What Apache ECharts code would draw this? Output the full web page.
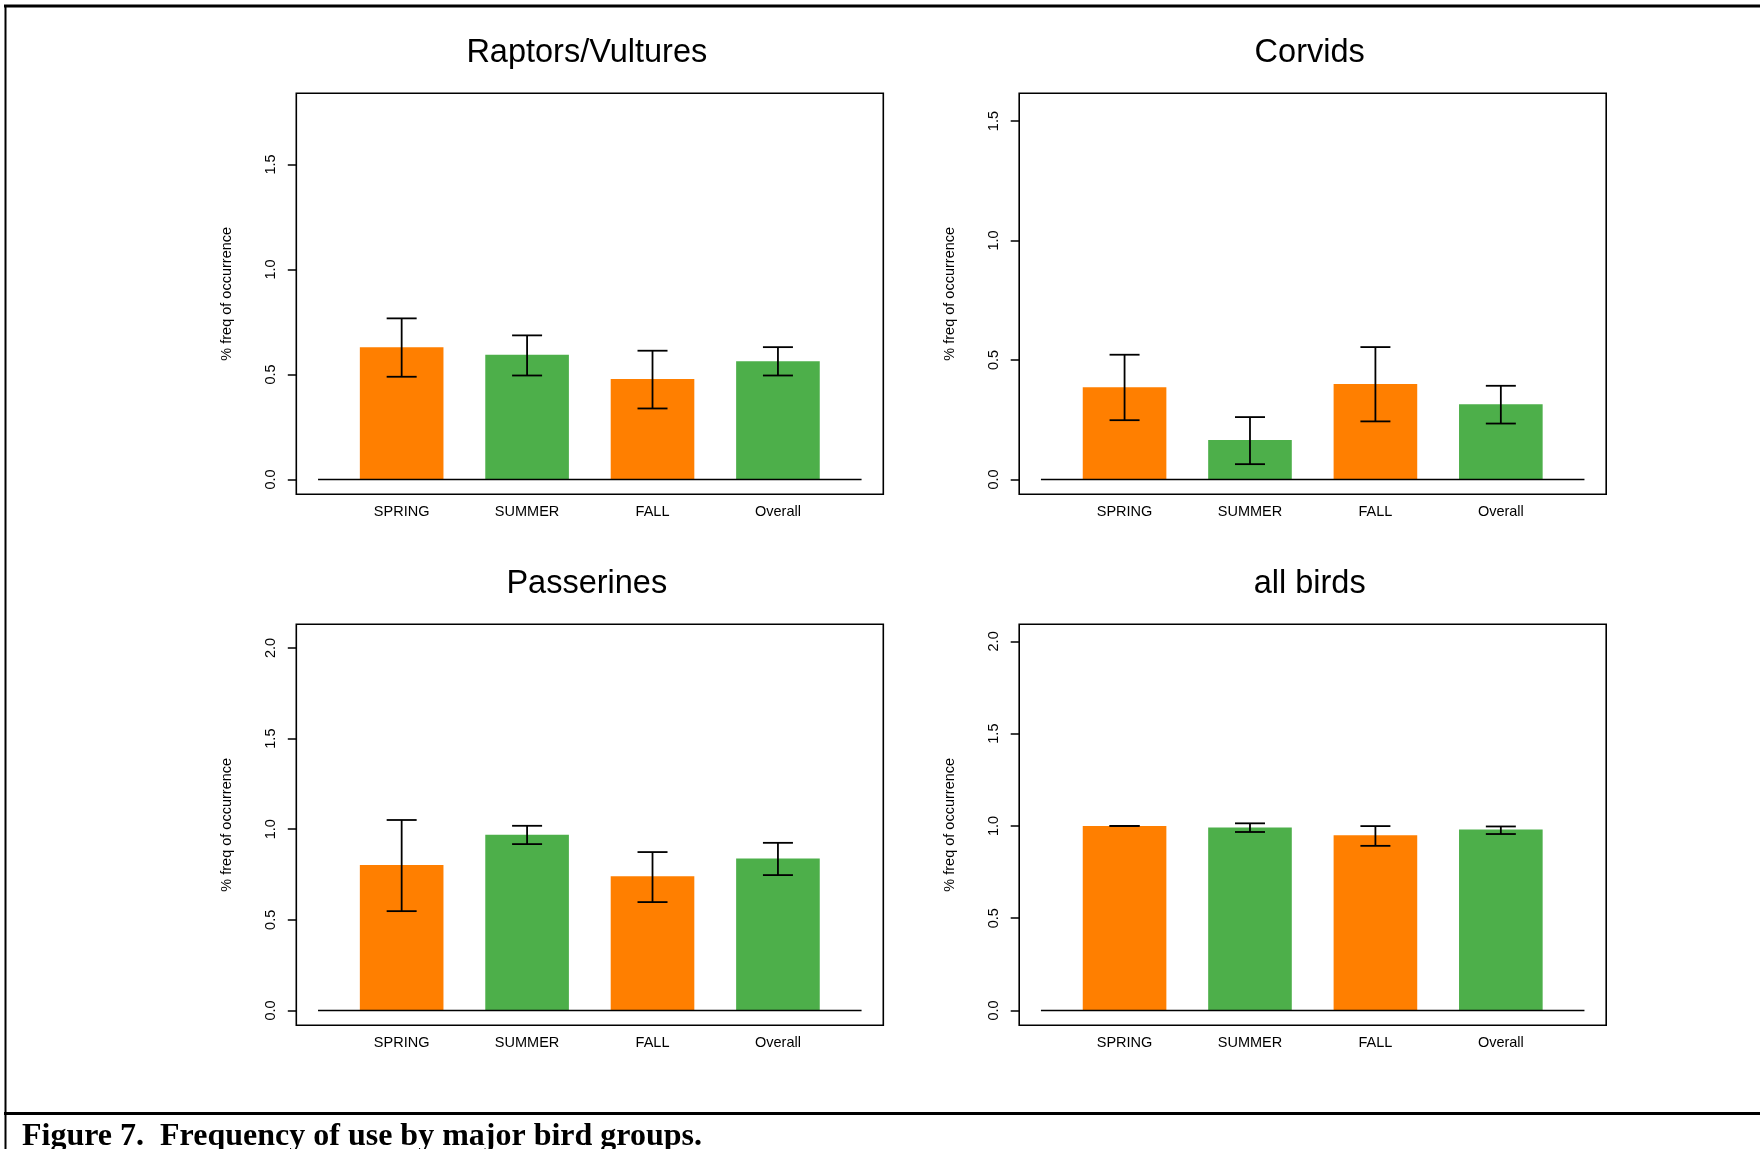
<!DOCTYPE html>
<html>
<head>
<meta charset="utf-8">
<script src="https://cdn.jsdelivr.net/npm/echarts@6/dist/echarts.min.js"></script>
<style>
  html, body { margin: 0; padding: 0; background: #fff; }
  #chart { width: 1760px; height: 1149px; }
</style>
</head>
<body>
<div id="chart"></div>
<script>
// ---- data ----
const categories = ['SPRING', 'SUMMER', 'FALL', 'Overall'];
const panelTitles = ['Raptors/Vultures', 'Corvids', 'Passerines', 'all birds'];
const caption = 'Figure 7.  Frequency of use by major bird groups.';
const yAxisName = '% freq of occurrence';

const raptorsMean = [0.630, 0.594, 0.478, 0.563];
const raptorsLow  = [0.489, 0.495, 0.338, 0.495];
const raptorsHigh = [0.767, 0.686, 0.613, 0.630];

const corvidsMean = [0.386, 0.165, 0.399, 0.315];
const corvidsLow  = [0.248, 0.064, 0.243, 0.234];
const corvidsHigh = [0.522, 0.261, 0.554, 0.392];

const passerinesMean = [0.802, 0.970, 0.740, 0.839];
const passerinesLow  = [0.548, 0.918, 0.598, 0.747];
const passerinesHigh = [1.051, 1.019, 0.874, 0.925];

const allBirdsMean = [1.000, 0.992, 0.949, 0.981];
const allBirdsLow  = [1.000, 0.967, 0.892, 0.956];
const allBirdsHigh = [1.000, 1.014, 0.999, 0.997];

const yTicksTop = [0, 0.5, 1.0, 1.5];
const yTicksBottom = [0, 0.5, 1.0, 1.5, 2.0];
const yLimits = [1.768, 1.554, 2.049, 2.012];   // upper ylim of each panel
const xLimit = 6.5;                              // xlim upper (lower is 0)

// ---- layout / style ----
const barColors = ['#FF7F00', '#4DAF4A', '#FF7F00', '#4DAF4A'];
const boxW = 587, boxH = 401;
const boxes = [
  { left: 296.3, top: 93.3 },
  { left: 1019.2, top: 93.3 },
  { left: 296.3, top: 624.3 },
  { left: 1019.2, top: 624.3 }
];
const panelData = [
  { mean: raptorsMean, low: raptorsLow, high: raptorsHigh, ticks: yTicksTop },
  { mean: corvidsMean, low: corvidsLow, high: corvidsHigh, ticks: yTicksTop },
  { mean: passerinesMean, low: passerinesLow, high: passerinesHigh, ticks: yTicksBottom },
  { mean: allBirdsMean, low: allBirdsLow, high: allBirdsHigh, ticks: yTicksBottom }
];
// R barplot geometry: width 1, space 0.5 -> centres at 1, 2.5, 4, 5.5
const barPos = categories.map((c, i) => 1 + 1.5 * i);
const FONT = 'Liberation Sans, Arial, Helvetica, sans-serif';

const grids = [], xAxes = [], yAxes = [], series = [], graphics = [];

boxes.forEach((b, i) => {
  const pd = panelData[i];
  const Y = yLimits[i];
  grids.push({
    left: b.left, top: b.top, width: boxW, height: boxH,
    show: true, borderColor: '#000', borderWidth: 1.6, backgroundColor: 'transparent'
  });
  xAxes.push({
    type: 'value', gridIndex: i, position: 'bottom',
    min: -0.04 * xLimit, max: 1.04 * xLimit,
    axisLine: { show: false, onZero: false }, axisTick: { show: false }, splitLine: { show: false },
    axisLabel: {
      customValues: barPos, margin: 10, fontSize: 14.5, color: '#000', fontFamily: FONT,
      formatter: v => categories[Math.round((v - 1) / 1.5)]
    }
  });
  yAxes.push({
    type: 'value', gridIndex: i, position: 'left',
    min: -0.04 * Y, max: 1.04 * Y,
    axisLine: { show: false, onZero: false },
    axisTick: { show: true, length: 8.5, customValues: pd.ticks, lineStyle: { color: '#000', width: 1.5 } },
    splitLine: { show: false },
    axisLabel: {
      customValues: pd.ticks, rotate: 90, margin: 18, fontSize: 14.5, color: '#000', fontFamily: FONT,
      formatter: v => v.toFixed(1)
    },
    name: yAxisName, nameLocation: 'middle', nameGap: 62,
    nameTextStyle: { fontSize: 14.5, color: '#000', fontFamily: FONT }
  });

  series.push({
    type: 'custom', xAxisIndex: i, yAxisIndex: i, z: 2, silent: true,
    data: pd.mean.map((m, k) => [barPos[k], m, k]),
    encode: { x: 0, y: 1 },
    renderItem: (params, api) => {
      const x = api.value(0), v = api.value(1);
      const p1 = api.coord([x - 0.5, v]);
      const p2 = api.coord([x + 0.5, 0]);
      return {
        type: 'rect',
        shape: { x: p1[0], y: p1[1], width: p2[0] - p1[0], height: p2[1] - p1[1] },
        style: { fill: barColors[api.value(2)] }
      };
    }
  });
  series.push({
    type: 'line', xAxisIndex: i, yAxisIndex: i, z: 3, silent: true,
    data: [[0, 0], [xLimit, 0]], showSymbol: false, symbol: 'none',
    lineStyle: { color: '#000', width: 1.6 }
  });
  series.push({
    type: 'custom', xAxisIndex: i, yAxisIndex: i, z: 4, silent: true,
    data: pd.mean.map((m, k) => [barPos[k], pd.low[k], pd.high[k]]),
    encode: { x: 0, y: [1, 2] },
    renderItem: (params, api) => {
      const x = api.value(0);
      const lo = api.coord([x, api.value(1)]);
      const hi = api.coord([x, api.value(2)]);
      const cap = 15;
      const st = { stroke: '#000', lineWidth: 1.8 };
      return {
        type: 'group',
        children: [
          { type: 'line', shape: { x1: lo[0], y1: lo[1], x2: hi[0], y2: hi[1] }, style: st },
          { type: 'line', shape: { x1: hi[0] - cap, y1: hi[1], x2: hi[0] + cap, y2: hi[1] }, style: st },
          { type: 'line', shape: { x1: lo[0] - cap, y1: lo[1], x2: lo[0] + cap, y2: lo[1] }, style: st }
        ]
      };
    }
  });

  graphics.push({
    type: 'text', x: b.left + boxW / 2 - 3, y: b.top - 40.3, silent: true,
    style: {
      text: panelTitles[i], fill: '#000', fontSize: 32.5, fontFamily: FONT,
      align: 'center', verticalAlign: 'middle'
    }
  });
});

// outer frame and caption
graphics.push(
  { type: 'line', shape: { x1: 4, y1: 6, x2: 1760, y2: 6 }, style: { stroke: '#000', lineWidth: 3 }, silent: true },
  { type: 'line', shape: { x1: 5.5, y1: 5, x2: 5.5, y2: 1149 }, style: { stroke: '#000', lineWidth: 2 }, silent: true },
  { type: 'line', shape: { x1: 4, y1: 1113.5, x2: 1760, y2: 1113.5 }, style: { stroke: '#000', lineWidth: 3 }, silent: true },
  {
    type: 'text', x: 22, y: 1136.8, silent: true,
    style: {
      text: caption, fill: '#000', fontSize: 32, fontWeight: 'bold',
      fontFamily: 'Liberation Serif, Times New Roman, serif',
      align: 'left', verticalAlign: 'middle'
    }
  }
);

const chart = echarts.init(document.getElementById('chart'), null, { renderer: 'canvas' });
chart.setOption({
  backgroundColor: '#fff',
  animation: false,
  textStyle: { fontFamily: FONT },
  grid: grids,
  xAxis: xAxes,
  yAxis: yAxes,
  series: series,
  graphic: graphics
});
</script>
</body>
</html>
